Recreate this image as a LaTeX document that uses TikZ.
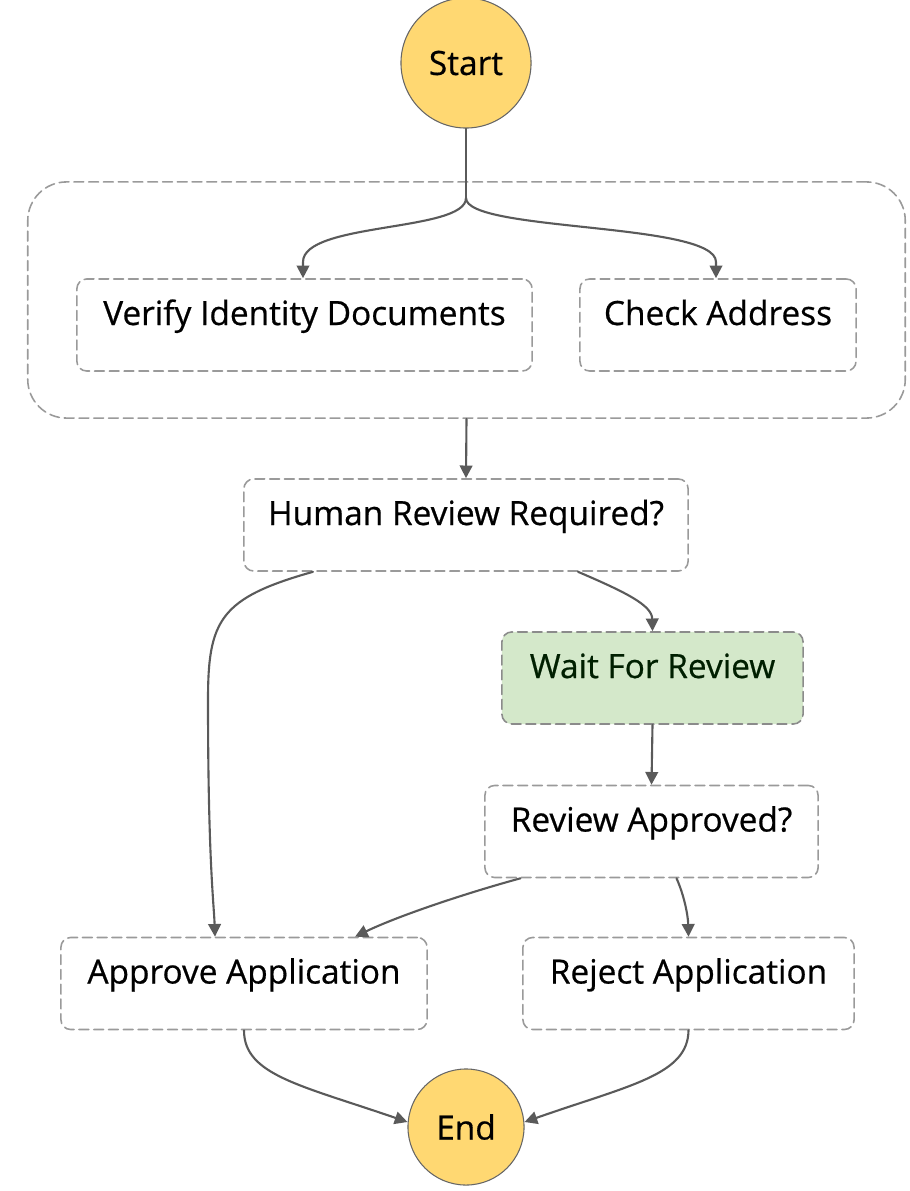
\documentclass[tikz,border=0pt]{standalone}
\usepackage{fontspec}
\setmainfont{Open Sans}[UprightFeatures={FakeBold=0.6}]
\usetikzlibrary{arrows.meta}
\definecolor{stateyellow}{HTML}{FFD872}
\definecolor{stategreen}{HTML}{D4E8CA}
\definecolor{edgegray}{HTML}{5A5A5A}
\definecolor{boxgray}{HTML}{9A9A9A}
\begin{document}
\begin{tikzpicture}[x=0.01cm,y=-0.01cm, line join=round, line cap=round,
	font=\fontsize{9.5}{11}\selectfont,
	terminal/.style={circle, draw=gray!80!black, line width=0.3pt, fill=stateyellow, inner sep=0pt},
	task/.style={draw=boxgray, dash pattern=on 2.8pt off 1.4pt, rounded corners=2.8pt, line width=0.45pt,
		inner xsep=0pt, inner ysep=0pt, minimum height=0.92cm, text height=0.46cm, text depth=0.46cm},
	arr/.style={draw=edgegray, line width=0.6pt, -{Triangle[length=3.6pt,width=3.6pt]}}]
	\useasboundingbox (0,0) rectangle (910,1191);
	% các trạng thái
	\node[terminal, minimum size=1.3cm] (start) at (466,63) {Start};
	\node[task, minimum width=8.77cm, minimum height=2.36cm, text height=0pt, text depth=0pt, rounded corners=11pt] (group) at (466.5,300) {};
	\node[task, minimum width=4.55cm] (verify) at (304.5,325) {Verify Identity Documents};
	\node[task, minimum width=2.76cm] (check) at (718,325) {Check Address};
	\node[task, minimum width=4.44cm] (human) at (466,525) {Human Review Required?};
	\node[task, minimum width=3.01cm, fill=stategreen, draw=boxgray!90!black, text=black!80!green!60!black] (wait) at (652.5,678) {Wait For Review};
	\node[task, minimum width=3.33cm] (review) at (651.5,831.5) {Review Approved?};
	\node[task, minimum width=3.66cm] (approve) at (244,983.5) {Approve Application};
	\node[task, minimum width=3.31cm] (reject) at (688.5,983.5) {Reject Application};
	\node[terminal, minimum size=1.16cm] (end) at (466,1127) {End};
	\coordinate (split) at (466,198);
	% các mũi tên
	\draw[draw=edgegray, line width=0.6pt] (start.south) -- (split);
	\draw[arr] (split) .. controls (466,232) and (303,222) .. (303,262) -- ([xshift=-0.015cm]verify.north);
	\draw[arr] (split) .. controls (466,232) and (716,222) .. (716,262) -- ([xshift=-0.02cm]check.north);
	\draw[arr] (group.south) -- (human.north);
	\draw[arr] ([xshift=-1.53cm]human.south) .. controls (220,598) and (208,620) .. (208,700)
		.. controls (208,860) and (214,905) .. ([xshift=-0.29cm]approve.north);
	\draw[arr] ([xshift=1.12cm]human.south) .. controls (625,592) and (652,605) .. (wait.north);
	\draw[arr] (wait.south) -- (review.north);
	\draw[arr] ([xshift=-1.31cm]review.south) .. controls (470,892) and (400,915) .. ([xshift=1.11cm]approve.north);
	\draw[arr] ([xshift=0.25cm]review.south) .. controls (684,895) and (688,915) .. (reject.north);
	\draw[arr] (approve.south) .. controls (244,1075) and (300,1085) .. ([yshift=0.05cm]end.west);
	\draw[arr] (reject.south) .. controls (688,1075) and (630,1085) .. ([yshift=0.05cm]end.east);
\end{tikzpicture}
\end{document}
